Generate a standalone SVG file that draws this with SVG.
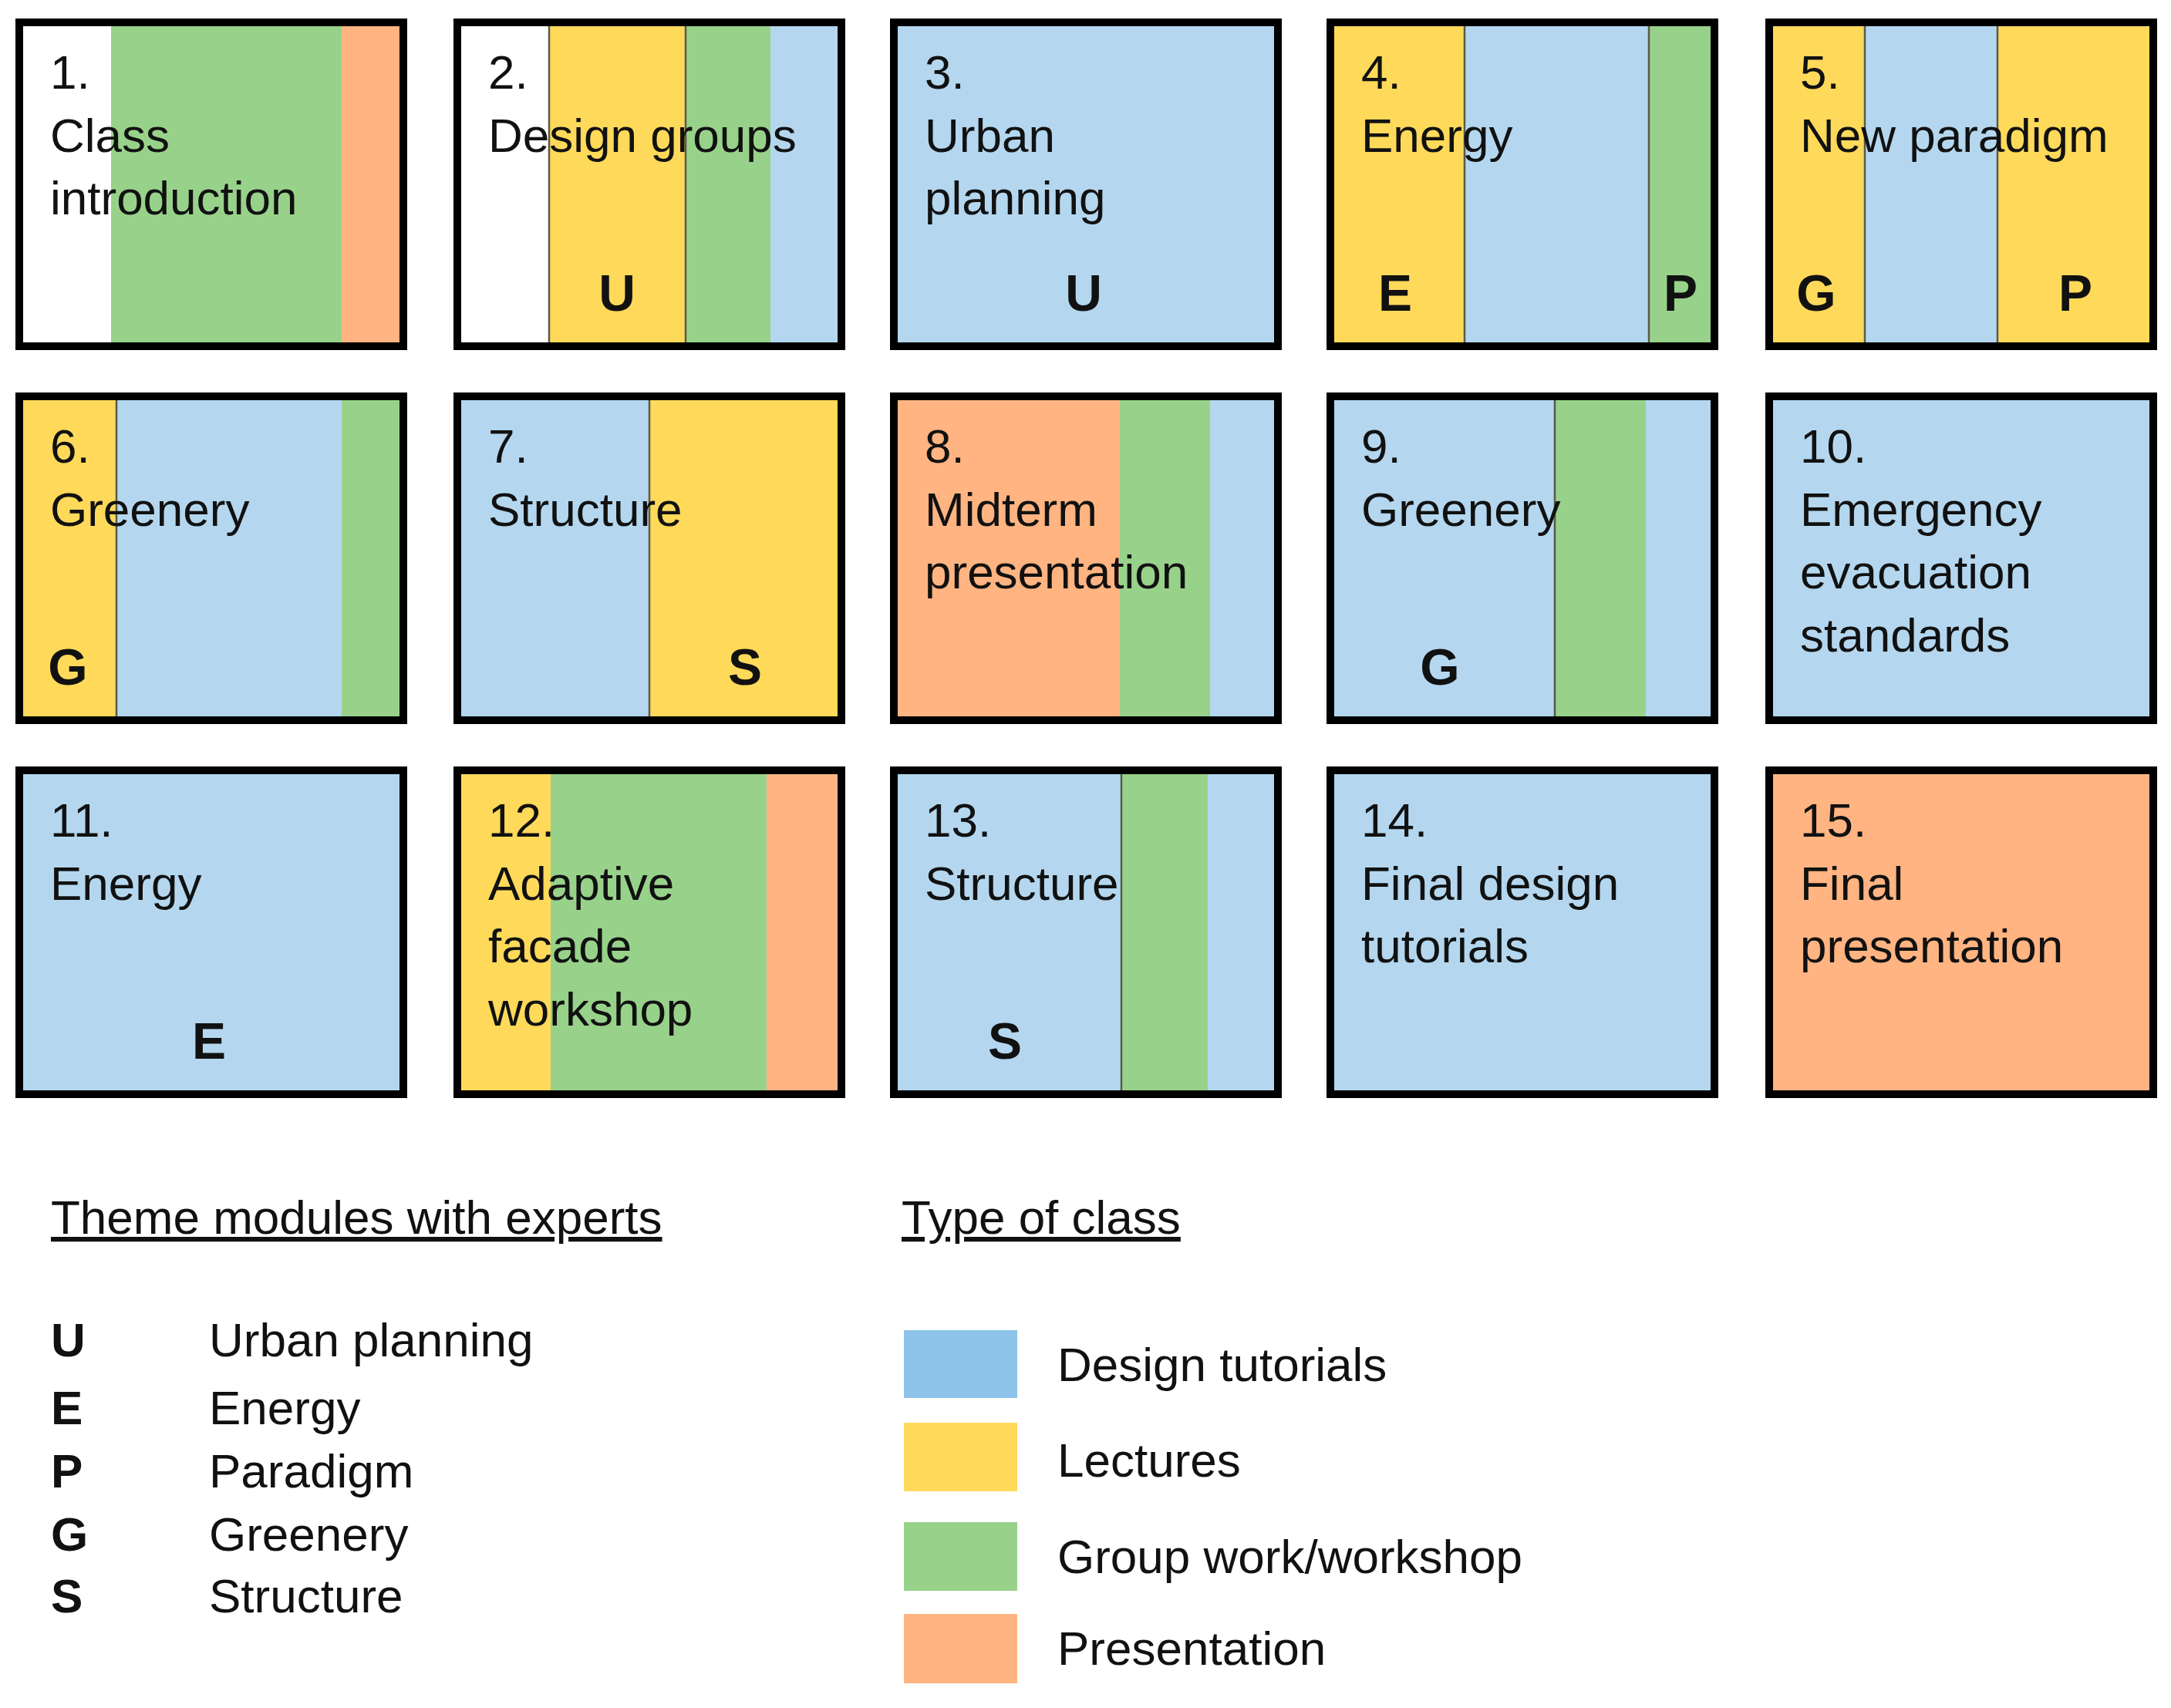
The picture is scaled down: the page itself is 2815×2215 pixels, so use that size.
<svg xmlns="http://www.w3.org/2000/svg" width="2815" height="2215" viewBox="0 0 2815 2215">
<style>
.b{fill:#B4D7EF}.y{fill:#FFD95A}.g{fill:#98D28A}.o{fill:#FFB482}.w{fill:#FFFFFF}
.f{fill:none;stroke:#000;stroke-width:10}
.d{stroke:#5a5a4a;stroke-width:2.5}
text{font-family:"Liberation Sans",Arial,sans-serif;font-size:62px;fill:#111}
.L{font-weight:bold;font-size:66px;text-anchor:middle}
.k{font-weight:bold}
</style>
<rect width="2815" height="2215" fill="#fff"/>
<g id="n1"><rect class="w" x="20" y="24" width="124" height="430"/><rect class="g" x="144" y="24" width="299" height="430"/><rect class="o" x="443" y="24" width="85" height="430"/><rect class="f" x="25" y="29" width="498" height="420"/>
<text x="65" y="115">1.</text><text x="65" y="197">Class</text><text x="65" y="278">introduction</text></g>
<g id="n2"><rect class="w" x="588" y="24" width="124" height="430"/><rect class="y" x="712" y="24" width="177" height="430"/><rect class="g" x="889" y="24" width="110" height="430"/><rect class="b" x="999" y="24" width="97" height="430"/><line class="d" x1="712" y1="24" x2="712" y2="454"/><line class="d" x1="889" y1="24" x2="889" y2="454"/><rect class="f" x="593" y="29" width="498" height="420"/>
<text x="633" y="115">2.</text><text x="633" y="197">Design groups</text><text class="L" x="800" y="403">U</text></g>
<g id="n3"><rect class="b" x="1154" y="24" width="508" height="430"/><rect class="f" x="1159" y="29" width="498" height="420"/>
<text x="1199" y="115">3.</text><text x="1199" y="197">Urban</text><text x="1199" y="278">planning</text><text class="L" x="1405" y="403">U</text></g>
<g id="n4"><rect class="y" x="1720" y="24" width="179" height="430"/><rect class="b" x="1899" y="24" width="239" height="430"/><rect class="g" x="2138" y="24" width="90" height="430"/><line class="d" x1="1899" y1="24" x2="1899" y2="454"/><line class="d" x1="2138" y1="24" x2="2138" y2="454"/><rect class="f" x="1725" y="29" width="498" height="420"/>
<text x="1765" y="115">4.</text><text x="1765" y="197">Energy</text><text class="L" x="1809" y="403">E</text><text class="L" x="2179" y="403">P</text></g>
<g id="n5"><rect class="y" x="2289" y="24" width="129" height="430"/><rect class="b" x="2418" y="24" width="172" height="430"/><rect class="y" x="2590" y="24" width="207" height="430"/><line class="d" x1="2418" y1="24" x2="2418" y2="454"/><line class="d" x1="2590" y1="24" x2="2590" y2="454"/><rect class="f" x="2294" y="29" width="498" height="420"/>
<text x="2334" y="115">5.</text><text x="2334" y="197">New paradigm</text><text class="L" x="2355" y="403">G</text><text class="L" x="2691" y="403">P</text></g>

<g id="n6"><rect class="y" x="20" y="509" width="131" height="430"/><rect class="b" x="151" y="509" width="292" height="430"/><rect class="g" x="443" y="509" width="85" height="430"/><line class="d" x1="151" y1="509" x2="151" y2="939"/><rect class="f" x="25" y="514" width="498" height="420"/>
<text x="65" y="600">6.</text><text x="65" y="682">Greenery</text><text class="L" x="88" y="888">G</text></g>
<g id="n7"><rect class="b" x="588" y="509" width="254" height="430"/><rect class="y" x="842" y="509" width="254" height="430"/><line class="d" x1="842" y1="509" x2="842" y2="939"/><rect class="f" x="593" y="514" width="498" height="420"/>
<text x="633" y="600">7.</text><text x="633" y="682">Structure</text><text class="L" x="966" y="888">S</text></g>
<g id="n8"><rect class="o" x="1154" y="509" width="298" height="430"/><rect class="g" x="1452" y="509" width="117" height="430"/><rect class="b" x="1569" y="509" width="93" height="430"/><rect class="f" x="1159" y="514" width="498" height="420"/>
<text x="1199" y="600">8.</text><text x="1199" y="682">Midterm</text><text x="1199" y="763">presentation</text></g>
<g id="n9"><rect class="b" x="1720" y="509" width="296" height="430"/><rect class="g" x="2016" y="509" width="118" height="430"/><rect class="b" x="2134" y="509" width="94" height="430"/><line class="d" x1="2016" y1="509" x2="2016" y2="939"/><rect class="f" x="1725" y="514" width="498" height="420"/>
<text x="1765" y="600">9.</text><text x="1765" y="682">Greenery</text><text class="L" x="1867" y="888">G</text></g>
<g id="n10"><rect class="b" x="2289" y="509" width="508" height="430"/><rect class="f" x="2294" y="514" width="498" height="420"/>
<text x="2334" y="600">10.</text><text x="2334" y="682">Emergency</text><text x="2334" y="763">evacuation</text><text x="2334" y="845">standards</text></g>

<g id="n11"><rect class="b" x="20" y="994" width="508" height="430"/><rect class="f" x="25" y="999" width="498" height="420"/>
<text x="65" y="1085">11.</text><text x="65" y="1167">Energy</text><text class="L" x="271" y="1373">E</text></g>
<g id="n12"><rect class="y" x="588" y="994" width="126" height="430"/><rect class="g" x="714" y="994" width="280" height="430"/><rect class="o" x="994" y="994" width="102" height="430"/><rect class="f" x="593" y="999" width="498" height="420"/>
<text x="633" y="1085">12.</text><text x="633" y="1167">Adaptive</text><text x="633" y="1248">facade</text><text x="633" y="1330">workshop</text></g>
<g id="n13"><rect class="b" x="1154" y="994" width="300" height="430"/><rect class="g" x="1454" y="994" width="112" height="430"/><rect class="b" x="1566" y="994" width="96" height="430"/><line class="d" x1="1454" y1="994" x2="1454" y2="1424"/><rect class="f" x="1159" y="999" width="498" height="420"/>
<text x="1199" y="1085">13.</text><text x="1199" y="1167">Structure</text><text class="L" x="1303" y="1373">S</text></g>
<g id="n14"><rect class="b" x="1720" y="994" width="508" height="430"/><rect class="f" x="1725" y="999" width="498" height="420"/>
<text x="1765" y="1085">14.</text><text x="1765" y="1167">Final design</text><text x="1765" y="1248">tutorials</text></g>
<g id="n15"><rect class="o" x="2289" y="994" width="508" height="430"/><rect class="f" x="2294" y="999" width="498" height="420"/>
<text x="2334" y="1085">15.</text><text x="2334" y="1167">Final</text><text x="2334" y="1248">presentation</text></g>

<g id="connectors"/>

<g id="legend-themes">
<text x="66" y="1600" text-decoration="underline">Theme modules with experts</text>
<text class="k" x="66" y="1759">U</text><text x="271" y="1759">Urban planning</text>
<text class="k" x="66" y="1847">E</text><text x="271" y="1847">Energy</text>
<text class="k" x="66" y="1929">P</text><text x="271" y="1929">Paradigm</text>
<text class="k" x="66" y="2011">G</text><text x="271" y="2011">Greenery</text>
<text class="k" x="66" y="2091">S</text><text x="271" y="2091">Structure</text>
</g>
<g id="legend-types">
<text x="1169" y="1600" text-decoration="underline">Type of class</text>
<rect x="1172" y="1725" width="147" height="88" fill="#8DC3E8"/><text x="1371" y="1791">Design tutorials</text>
<rect class="y" x="1172" y="1845" width="147" height="89"/><text x="1371" y="1915">Lectures</text>
<rect class="g" x="1172" y="1974" width="147" height="89"/><text x="1371" y="2040">Group work/workshop</text>
<rect class="o" x="1172" y="2093" width="147" height="90"/><text x="1371" y="2159">Presentation</text>
</g>
</svg>
